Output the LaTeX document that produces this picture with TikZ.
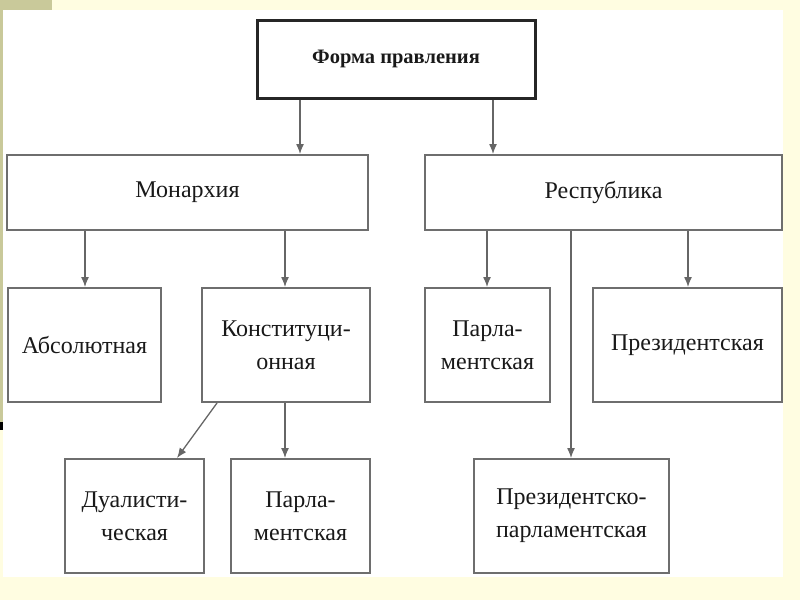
\documentclass[tikz,border=0pt]{standalone}
\usepackage{fontspec}
\setmainfont{Liberation Serif}
\usetikzlibrary{arrows.meta}
\definecolor{bgyel}{RGB}{255,253,225}
\definecolor{olive}{RGB}{201,201,154}
\definecolor{boxline}{RGB}{110,110,110}
\definecolor{txt}{RGB}{25,25,25}
\tikzset{
  box/.style={draw=boxline, line width=2pt, fill=white, inner sep=0pt, align=center,
    text=txt, font=\fontsize{24}{33}\selectfont},
  topbox/.style={box, draw=black!85, line width=3pt, font=\bfseries\fontsize{20.5}{24}\selectfont},
  arr/.style={draw=black!60, line width=1.3pt, -{Latex[length=10pt,width=8pt]}},
}
\begin{document}
\begin{tikzpicture}[x=1pt,y=-1pt]
\useasboundingbox (0,0) rectangle (800,600);
\fill[bgyel] (0,0) rectangle (800,600);
\fill[white] (3,10) rectangle (783,577);
\fill[olive] (0,0) rectangle (52,10);
\fill[olive] (0,10) rectangle (3,430);
\fill[black] (0,422) rectangle (3,430);

\node[topbox, minimum width=278pt, minimum height=78pt] (top) at (396,59) {Форма правления};
\node[box, minimum width=361pt, minimum height=75pt] (mon) at (187.5,192.5) {Монархия};
\node[box, minimum width=357pt, minimum height=75pt] (rep) at (603.5,192.5) {Республика};
\node[box, minimum width=153pt, minimum height=114pt] (abs) at (84.5,345) {Абсолютная};
\node[box, minimum width=168pt, minimum height=114pt] (kon) at (286,345) {Конституци-\\онная};
\node[box, minimum width=125pt, minimum height=114pt] (parA) at (487.5,345) {Парла-\\ментская};
\node[box, minimum width=189pt, minimum height=114pt] (pres) at (687.5,345) {Президентская};
\node[box, minimum width=139pt, minimum height=114pt] (dual) at (134.5,516) {Дуалисти-\\ческая};
\node[box, minimum width=139pt, minimum height=114pt] (parB) at (300.5,516) {Парла-\\ментская};
\node[box, minimum width=195pt, minimum height=114pt] (prpar) at (571.5,516) {Президентско-\\парламентская};

\draw[arr] (top.south -| 300,0) -- (mon.north -| 300,0);
\draw[arr] (top.south -| 493,0) -- (rep.north -| 493,0);
\draw[arr] (mon.south -| 85,0) -- (abs.north -| 85,0);
\draw[arr] (mon.south -| 285,0) -- (kon.north -| 285,0);
\draw[arr] (rep.south -| 487,0) -- (parA.north -| 487,0);
\draw[arr] (rep.south -| 571,0) -- (prpar.north -| 571,0);
\draw[arr] (rep.south -| 688,0) -- (pres.north -| 688,0);
\draw[arr] (kon.south -| 217,0) -- (dual.north -| 177,0);
\draw[arr] (kon.south -| 285,0) -- (parB.north -| 285,0);
\end{tikzpicture}
\end{document}
